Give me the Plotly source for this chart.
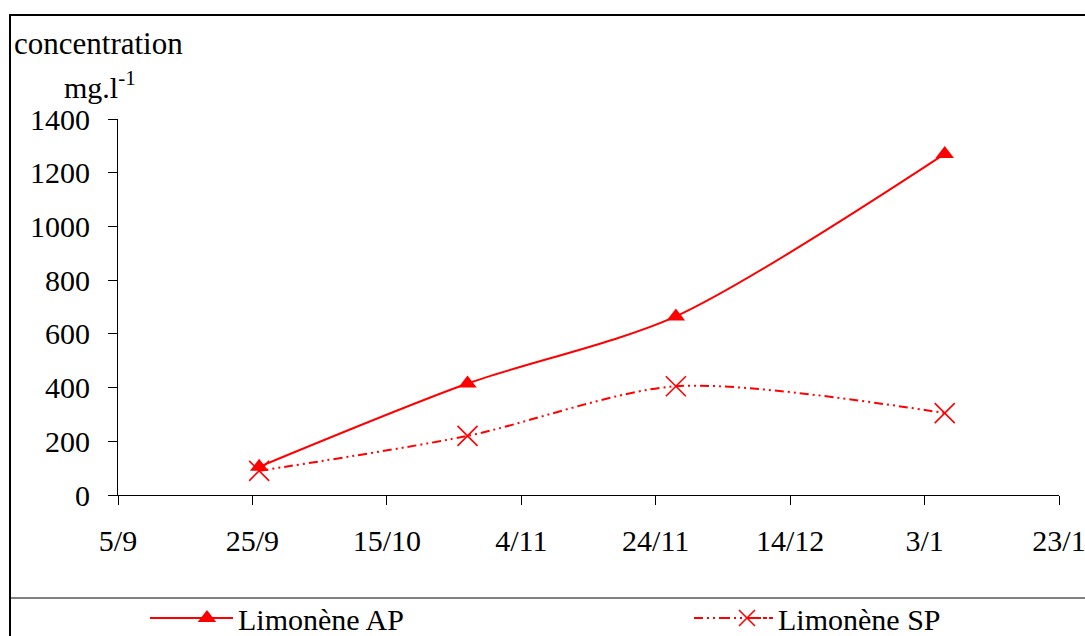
import plotly.graph_objects as go

# ---- data ----
dates = ["2000-09-26", "2000-10-27", "2000-11-27", "2001-01-06"]
limonene_ap = [105, 415, 665, 1270]
limonene_sp = [90, 220, 405, 305]
series_names = ["Limonène AP", "Limonène SP"]
y_ticks = [0, 200, 400, 600, 800, 1000, 1200, 1400]

W, H = 1085, 636
FONT = "Liberation Serif"
RED = "#FF0000"
SP_DASH = "9px,4px,2px,4px,2px,4px"

def px_x(p):
    return p / W

def px_y(p):
    return 1 - p / H

fig = go.Figure()
fig.add_trace(go.Scatter(
    x=dates, y=limonene_ap, name=series_names[0], mode="lines+markers",
    line=dict(color=RED, width=2, shape="spline", smoothing=0.8),
    marker=dict(symbol="triangle-up", size=16, color=RED),
    legend="legend",
))
fig.add_trace(go.Scatter(
    x=dates, y=limonene_sp, name=series_names[1], mode="lines+markers",
    line=dict(color=RED, width=2, shape="spline", smoothing=0.8, dash=SP_DASH),
    marker=dict(symbol="x-thin-open", size=20, color=RED,
                line=dict(color=RED, width=1.6)),
    legend="legend2",
))

LEG_Y = 618
legend_common = dict(orientation="h", yanchor="middle", y=px_y(LEG_Y),
                     xanchor="left", itemwidth=52,
                     font=dict(family=FONT, size=30, color="black"),
                     bgcolor="rgba(0,0,0,0)", borderwidth=0)

def seg(x0, x1, dash="solid"):
    return dict(type="line", xref="paper", yref="paper",
                x0=px_x(x0), x1=px_x(x1), y0=px_y(LEG_Y), y1=px_y(LEG_Y),
                line=dict(color=RED, width=2, dash=dash))

fig.update_layout(
    width=W, height=H, autosize=False,
    margin=dict(l=0, r=0, t=0, b=0, autoexpand=False),
    paper_bgcolor="white", plot_bgcolor="white",
    font=dict(family=FONT, size=30, color="black"),
    showlegend=True,
    legend=dict(x=px_x(176), **legend_common),
    legend2=dict(x=px_x(716), **legend_common),
    xaxis=dict(
        domain=[px_x(118), px_x(1059)],
        type="date", range=["2000-09-05", "2001-01-23"],
        tick0="2000-09-05", dtick=20 * 86400000, tickformat="%-d/%-m",
        showgrid=False, zeroline=False, showline=True, linecolor="black",
        linewidth=1, ticks="outside", ticklen=9, tickcolor="black",
        ticklabelstandoff=10, ticklabeloverflow="allow",
        tickfont=dict(family=FONT, size=30, color="black"),
    ),
    yaxis=dict(
        domain=[1 - 495 / H, 1 - 119 / H],
        range=[0, 1400], tickvals=y_ticks,
        showgrid=False, zeroline=False, showline=True, linecolor="black",
        linewidth=1, ticks="outside", ticklen=9, tickcolor="black",
        ticklabelstandoff=12,
        tickfont=dict(family=FONT, size=30, color="black"),
    ),
    shapes=[
        dict(type="rect", xref="paper", yref="paper",
             x0=px_x(10), x1=1.02, y0=-0.02, y1=px_y(15),
             line=dict(color="black", width=2)),
        dict(type="line", xref="paper", yref="paper",
             x0=px_x(11), x1=1.02, y0=px_y(598), y1=px_y(598),
             line=dict(color="#808080", width=2)),
        seg(150, 182), seg(210, 231),
        seg(694, 722, SP_DASH), seg(750, 772, SP_DASH),
    ],
    annotations=[
        dict(text="concentration", xref="paper", yref="paper",
             x=px_x(12), y=px_y(43), xanchor="left", yanchor="middle",
             showarrow=False, font=dict(family=FONT, size=31, color="black")),
        dict(text="mg.l<sup>-1</sup>", xref="paper", yref="paper",
             x=px_x(62), y=px_y(85), xanchor="left", yanchor="middle",
             showarrow=False, font=dict(family=FONT, size=30, color="black")),
    ],
)

fig.write_html(
    "out.html",
    config={"displayModeBar": False},
    post_script="document.body.style.margin='0';document.body.style.overflow='hidden';",
)
